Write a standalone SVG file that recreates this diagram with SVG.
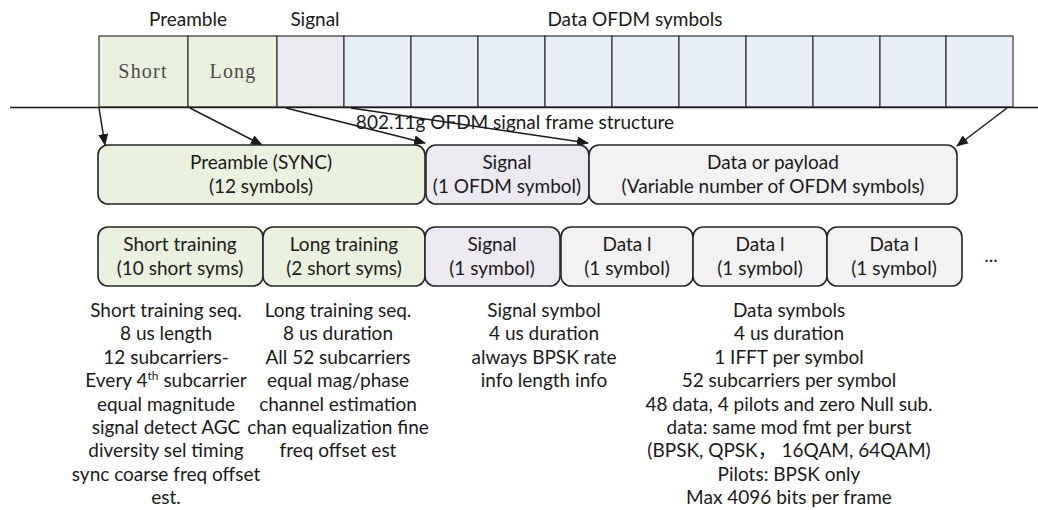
<svg xmlns="http://www.w3.org/2000/svg" width="1038" height="510" viewBox="0 0 1038 510">
  <defs>
    <marker id="arrow" markerUnits="userSpaceOnUse" markerWidth="12" markerHeight="10" refX="11" refY="5" orient="auto">
      <path d="M0,0 L12,5 L0,10 Z" fill="#1a1a1a"/>
    </marker>
    <style>
      .t { font-family: Lato, "Liberation Sans", "Noto Sans CJK SC", sans-serif; font-size: 19px; fill: #1a1a1a; text-anchor: middle; }
      .serif { font-family: "Liberation Serif", serif; font-size: 20px; letter-spacing: 1.2px; fill: #4a4a4a; text-anchor: middle; }
      .cell { stroke: #333; stroke-width: 1.2; }
      .box { stroke: #262626; stroke-width: 1.6; }
      .green { fill: #ebf1df; }
      .violet { fill: #ece9f1; }
      .blue { fill: #e7eef7; }
      .gray { fill: #f2f2f3; }
      .conn { stroke: #1a1a1a; stroke-width: 1.5; fill: none; marker-end: url(#arrow); }
    </style>
  </defs>

  <rect width="1038" height="510" fill="#ffffff"/>

  <!-- frame strip -->
  <g id="frame-strip">
    <text class="t" x="188" y="26">Preamble</text>
    <text class="t" x="315" y="26">Signal</text>
    <text class="t" x="635" y="26" font-size="18.5">Data OFDM symbols</text>
    <rect class="cell green" x="99" y="36" width="89" height="71"/>
    <rect class="cell green" x="188" y="36" width="89" height="71"/>
    <rect class="cell violet" x="277" y="36" width="67" height="71"/>
    <rect class="cell blue" x="344" y="36" width="67" height="71"/>
    <rect class="cell blue" x="411" y="36" width="67" height="71"/>
    <rect class="cell blue" x="478" y="36" width="67" height="71"/>
    <rect class="cell blue" x="545" y="36" width="67" height="71"/>
    <rect class="cell blue" x="612" y="36" width="67" height="71"/>
    <rect class="cell blue" x="679" y="36" width="67" height="71"/>
    <rect class="cell blue" x="746" y="36" width="67" height="71"/>
    <rect class="cell blue" x="813" y="36" width="67" height="71"/>
    <rect class="cell blue" x="880" y="36" width="66" height="71"/>
    <rect class="cell blue" x="946" y="36" width="67" height="71"/>
    <text class="serif" x="143" y="78">Short</text>
    <text class="serif" x="233" y="78">Long</text>
    <line x1="10" y1="107.5" x2="1038" y2="107.5" stroke="#1a1a1a" stroke-width="1.6"/>
    <text class="t" x="515" y="129" font-size="18.2">802.11g OFDM signal frame structure</text>
  </g>

  <!-- arrows from the strip to the frame sections -->
  <g id="connectors">
    <line class="conn" x1="99" y1="108" x2="105" y2="145"/>
    <line class="conn" x1="190" y1="108" x2="262" y2="145"/>
    <line class="conn" x1="286" y1="108" x2="425" y2="143"/>
    <line class="conn" x1="351" y1="108" x2="588" y2="143"/>
    <line class="conn" x1="1007" y1="108" x2="957" y2="146"/>
  </g>

  <!-- frame sections -->
  <g id="preamble-sync">
    <rect class="box green" x="98" y="145" width="327" height="59" rx="10"/>
    <text class="t" x="261" y="169">Preamble (SYNC)</text>
    <text class="t" x="261" y="193">(12 symbols)</text>
  </g>
  <g id="signal-section">
    <rect class="box violet" x="426" y="145" width="163" height="59" rx="10"/>
    <text class="t" x="507" y="169">Signal</text>
    <text class="t" x="507" y="193">(1 OFDM symbol)</text>
  </g>
  <g id="data-payload">
    <rect class="box gray" x="589" y="145" width="368" height="59" rx="10"/>
    <text class="t" x="773" y="169">Data or payload</text>
    <text class="t" x="773" y="193">(Variable number of OFDM symbols)</text>
  </g>

  <!-- symbol breakdown -->
  <g id="short-training">
    <rect class="box green" x="98" y="227" width="165" height="59" rx="10"/>
    <text class="t" x="180" y="251">Short training</text>
    <text class="t" x="180" y="275">(10 short syms)</text>
  </g>
  <g id="long-training">
    <rect class="box green" x="263" y="227" width="162" height="59" rx="10"/>
    <text class="t" x="344" y="251">Long training</text>
    <text class="t" x="344" y="275">(2 short syms)</text>
  </g>
  <g id="signal-symbol">
    <rect class="box violet" x="425" y="227" width="135" height="59" rx="10"/>
    <text class="t" x="492" y="251">Signal</text>
    <text class="t" x="492" y="275">(1 symbol)</text>
  </g>
  <g id="data-1">
    <rect class="box gray" x="561" y="227" width="132" height="59" rx="10"/>
    <text class="t" x="627" y="251">Data l</text>
    <text class="t" x="627" y="275">(1 symbol)</text>
  </g>
  <g id="data-2">
    <rect class="box gray" x="693" y="227" width="134" height="59" rx="10"/>
    <text class="t" x="760" y="251">Data l</text>
    <text class="t" x="760" y="275">(1 symbol)</text>
  </g>
  <g id="data-3">
    <rect class="box gray" x="827" y="227" width="135" height="59" rx="10"/>
    <text class="t" x="894" y="251">Data l</text>
    <text class="t" x="894" y="275">(1 symbol)</text>
  </g>
  <text class="t" x="991" y="262">...</text>

  <!-- descriptions -->
  <g id="short-notes">
    <text class="t" x="166" y="317">Short training seq.</text>
    <text class="t" x="166" y="340">8 us length</text>
    <text class="t" x="166" y="364">12 subcarriers-</text>
    <text class="t" x="166" y="387">Every 4<tspan font-size="12" dy="-7">th</tspan><tspan dy="7"> subcarrier</tspan></text>
    <text class="t" x="166" y="411">equal magnitude</text>
    <text class="t" x="166" y="434">signal detect AGC</text>
    <text class="t" x="166" y="457">diversity sel timing</text>
    <text class="t" x="166" y="481">sync coarse freq offset</text>
    <text class="t" x="166" y="504">est.</text>
  </g>
  <g id="long-notes">
    <text class="t" x="338" y="317">Long training seq.</text>
    <text class="t" x="338" y="340">8 us duration</text>
    <text class="t" x="338" y="364">All 52 subcarriers</text>
    <text class="t" x="338" y="387">equal mag/phase</text>
    <text class="t" x="338" y="411">channel estimation</text>
    <text class="t" x="338" y="434">chan equalization fine</text>
    <text class="t" x="338" y="457">freq offset est</text>
  </g>
  <g id="signal-notes">
    <text class="t" x="544" y="317">Signal symbol</text>
    <text class="t" x="544" y="340">4 us duration</text>
    <text class="t" x="544" y="364">always BPSK rate</text>
    <text class="t" x="544" y="387">info length info</text>
  </g>
  <g id="data-notes">
    <text class="t" x="789" y="317">Data symbols</text>
    <text class="t" x="789" y="340">4 us duration</text>
    <text class="t" x="789" y="364">1 IFFT per symbol</text>
    <text class="t" x="789" y="387">52 subcarriers per symbol</text>
    <text class="t" x="789" y="411">48 data, 4 pilots and zero Null sub.</text>
    <text class="t" x="789" y="434">data: same mod fmt per burst</text>
    <text class="t" x="789" y="457">(BPSK, QPSK， 16QAM, 64QAM)</text>
    <text class="t" x="789" y="481">Pilots: BPSK only</text>
    <text class="t" x="789" y="504">Max 4096 bits per frame</text>
  </g>
</svg>
